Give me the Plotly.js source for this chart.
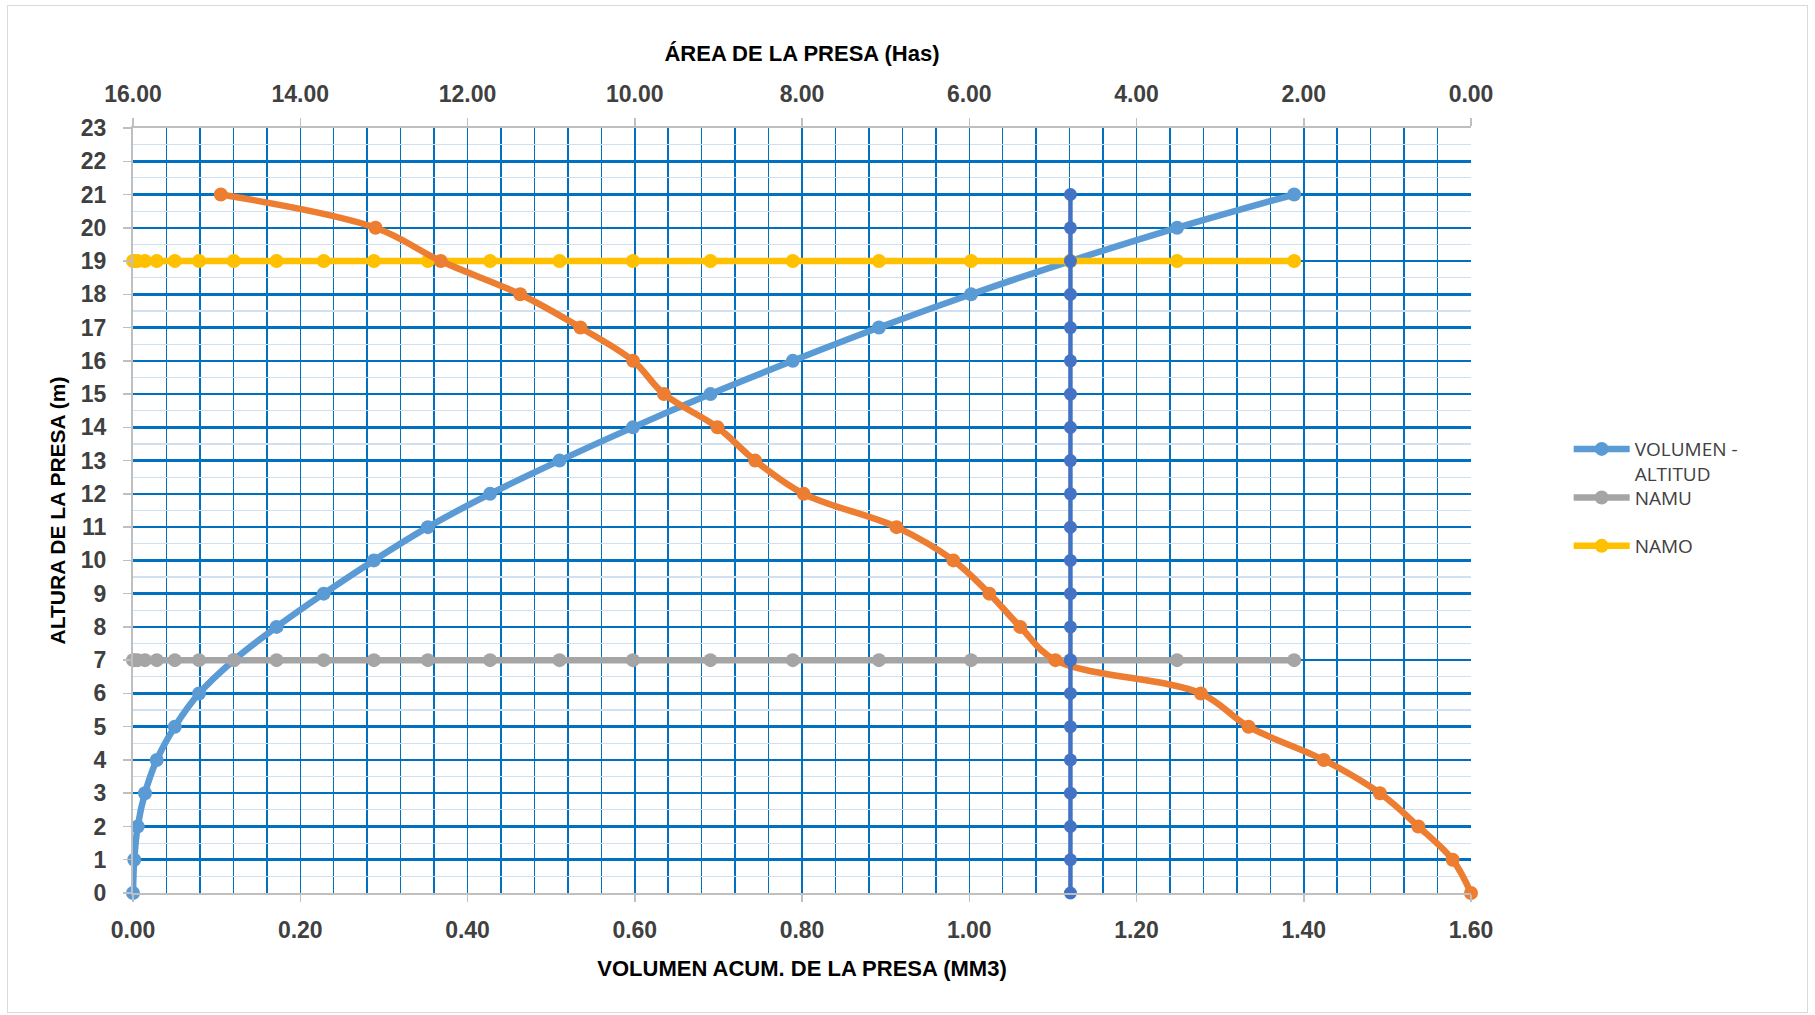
<!DOCTYPE html>
<html>
<head>
<meta charset="utf-8">
<script src="https://cdn.plot.ly/plotly-3.0.1.min.js"></script>
<style>
  html, body { margin: 0; padding: 0; background: #ffffff; }
  #chart { width: 1815px; height: 1015px; }
  #frame { position: absolute; left: 7px; top: 5px; width: 1801px; height: 1008px;
           border: 1.5px solid #D9D9D9; box-sizing: border-box; pointer-events: none; }
</style>
</head>
<body>
<div id="chart"></div>
<div id="frame"></div>
<script>
// ---- data ----
const alturas = [0, 1, 2, 3, 4, 5, 6, 7, 8, 9, 10, 11, 12, 13, 14, 15, 16, 17, 18, 19, 20, 21];
const volumen = [0.0000, 0.0015, 0.0056, 0.0143, 0.0284, 0.0500, 0.0790, 0.1205, 0.1717, 0.2281,
                 0.2881, 0.3526, 0.4270, 0.5100, 0.5978, 0.6905, 0.7890, 0.8920, 1.0022, 1.1208,
                 1.2485, 1.3885];
const area = [0.00, 0.22, 0.63, 1.09, 1.76, 2.66, 3.23, 4.97, 5.39, 5.76, 6.19, 6.87, 7.98, 8.56,
              9.01, 9.65, 10.02, 10.65, 11.37, 12.32, 13.10, 14.95];
const namuY = [7, 7, 7, 7, 7, 7, 7, 7, 7, 7, 7, 7, 7, 7, 7, 7, 7, 7, 7, 7, 7, 7];
const namoY = [19, 19, 19, 19, 19, 19, 19, 19, 19, 19, 19, 19, 19, 19, 19, 19, 19, 19, 19, 19, 19, 19];
const nivelArea = [4.79, 4.79, 4.79, 4.79, 4.79, 4.79, 4.79, 4.79, 4.79, 4.79, 4.79, 4.79, 4.79, 4.79,
                   4.79, 4.79, 4.79, 4.79, 4.79, 4.79, 4.79, 4.79];
const nombres = ['VOLUMEN -<br>ALTITUD', 'NAMU', 'NAMO'];

// ---- styling ----
const FONT = 'Liberation Sans, Arial, sans-serif';
const LEGFONT = 'Open Sans, Liberation Sans, sans-serif';
const tickFont = { family: FONT, size: 23, color: '#404040', weight: 'bold' };
const titleFont = { family: FONT, size: 22, color: '#000000', weight: 'bold' };
const grid = '#0070C0';

const traces = [
  { x: volumen, y: alturas, name: nombres[0], type: 'scatter', mode: 'lines+markers', cliponaxis: false,
    line: { color: '#5B9BD5', width: 6.5, shape: 'spline' },
    marker: { color: '#5B9BD5', size: 14 }, legend: 'legend' },
  { x: volumen, y: namuY, name: nombres[1], type: 'scatter', mode: 'lines+markers', cliponaxis: false,
    line: { color: '#A5A5A5', width: 6.5 },
    marker: { color: '#A5A5A5', size: 14 }, legend: 'legend2' },
  { x: volumen, y: namoY, name: nombres[2], type: 'scatter', mode: 'lines+markers', cliponaxis: false,
    line: { color: '#FFC000', width: 6.5 },
    marker: { color: '#FFC000', size: 14 }, legend: 'legend3' },
  { x: area, y: alturas, name: 'ÁREA - ALTITUD', type: 'scatter', mode: 'lines+markers', cliponaxis: false,
    xaxis: 'x2', yaxis: 'y', showlegend: false,
    line: { color: '#ED7D31', width: 6.5, shape: 'spline' },
    marker: { color: '#ED7D31', size: 14 } },
  { x: nivelArea, y: alturas, name: 'NIVEL', type: 'scatter', mode: 'lines+markers', cliponaxis: false,
    xaxis: 'x2', yaxis: 'y', showlegend: false,
    line: { color: '#4472C4', width: 4.5 },
    marker: { color: '#4472C4', size: 13 } }
];

const legendBase = {
  font: { family: LEGFONT, size: 19, color: '#404040' },
  bgcolor: 'rgba(0,0,0,0)', borderwidth: 0, xanchor: 'left', yanchor: 'middle',
  itemwidth: 56, itemclick: false, itemdoubleclick: false
};

const layout = {
  width: 1815, height: 1015,
  paper_bgcolor: '#ffffff', plot_bgcolor: '#ffffff',
  margin: { l: 133, r: 344, t: 128, b: 122, pad: 0 },
  showlegend: true,
  xaxis: {
    range: [0, 1.6], tick0: 0, dtick: 0.2, tickformat: '.2f',
    showgrid: true, gridcolor: grid, gridwidth: 1.5, zeroline: false,
    minor: { dtick: 0.04, showgrid: true, gridcolor: grid, gridwidth: 1.5, ticks: '' },
    showline: true, linecolor: '#BFBFBF', linewidth: 2,
    ticks: 'outside', ticklen: 7, tickcolor: '#BFBFBF', tickwidth: 1.5,
    ticklabelstandoff: 8,
    tickfont: tickFont,
    title: { text: 'VOLUMEN ACUM. DE LA PRESA (MM3)', font: titleFont, standoff: 19 }
  },
  xaxis2: {
    overlaying: 'x', side: 'top', anchor: 'y',
    range: [16, 0], tick0: 0, dtick: 2, tickformat: '.2f',
    showgrid: false, zeroline: false,
    showline: true, linecolor: '#BFBFBF', linewidth: 2,
    ticks: 'outside', ticklen: 8, tickcolor: '#BFBFBF', tickwidth: 1.5,
    ticklabelstandoff: 7,
    tickfont: tickFont,
    title: { text: 'ÁREA DE LA PRESA (Has)', font: titleFont, standoff: 13 }
  },
  yaxis: {
    range: [0, 23], tick0: 0, dtick: 1,
    showgrid: true, gridcolor: grid, gridwidth: 2.5, zeroline: false,
    minor: { dtick: 0.5, showgrid: true, gridcolor: '#CFE0F2', gridwidth: 1.2, ticks: '' },
    showline: true, linecolor: '#BFBFBF', linewidth: 2,
    ticks: 'outside', ticklen: 8, tickcolor: '#BFBFBF', tickwidth: 1.5,
    ticklabelstandoff: 12,
    tickfont: tickFont,
    title: { text: 'ALTURA DE LA PRESA (m)', font: { family: FONT, size: 21, color: '#000000', weight: 'bold' }, standoff: 9 }
  },
  legend: Object.assign({}, legendBase, { x: 1.073, y: 0.564, valign: 'top' }),
  legend2: Object.assign({}, legendBase, { x: 1.073, y: 0.5167 }),
  legend3: Object.assign({}, legendBase, { x: 1.073, y: 0.4536 })
};

Plotly.newPlot('chart', traces, layout, { displayModeBar: false, staticPlot: true });
</script>
</body>
</html>
